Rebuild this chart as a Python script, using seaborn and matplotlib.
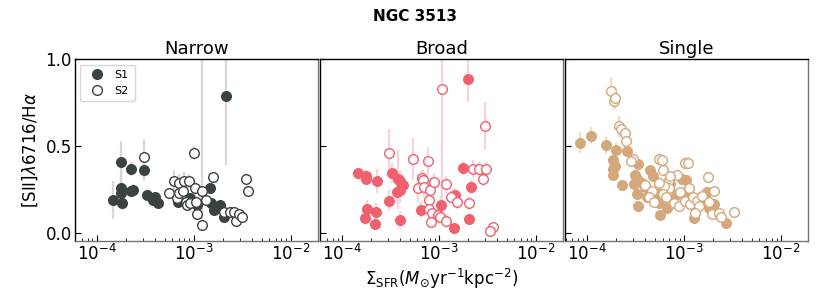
import numpy as np
import pandas as pd
import seaborn as sns
import matplotlib
matplotlib.use("Agg")
import matplotlib.pyplot as plt
import matplotlib.ticker as ticker
from matplotlib.lines import Line2D

sns.set_theme(style="ticks")
plt.rcParams.update(
    {
        "font.family": ["DejaVu Sans"],
        "axes.edgecolor": "black",
        "xtick.color": "black",
        "ytick.color": "black",
        "text.color": "black",
        "axes.labelcolor": "black",
        "xtick.direction": "in",
        "ytick.direction": "in",
        "xtick.labelsize": 12,
        "ytick.labelsize": 12,
    }
)

# --- data (x stored as log10 Sigma_SFR) ---
panels = ["Narrow", "Broad", "Single"]

narrow_s1_logx = [-3.83, -3.75, -3.75, -3.75, -3.74, -3.65, -3.65, -3.63, -3.51, -3.48, -3.41, -3.40,
                  -3.42, -3.37, -2.67, -2.83, -3.16, -2.97, -2.82, -2.79, -2.73, -2.69, -3.04]
narrow_s1_y = [0.19, 0.41, 0.26, 0.23, 0.17, 0.37, 0.24, 0.25, 0.36, 0.22, 0.20, 0.21,
               0.19, 0.17, 0.79, 0.26, 0.18, 0.16, 0.17, 0.13, 0.16, 0.09, 0.20]
narrow_s1_err = [0.11, 0.12, 0.08, 0.06, 0.04, 0.04, 0.03, 0.03, 0.06, 0.03, 0.03, 0.02,
                 0.03, 0.02, 0.40, 0.03, 0.03, 0.03, 0.02, 0.02, 0.02, 0.02, 0.03]

narrow_s2_logx = [-3.51, -3.00, -3.26, -3.21, -3.15, -3.10, -3.05, -3.17, -3.15, -3.08, -3.07, -3.04,
                  -2.99, -2.98, -2.97, -2.92, -2.92, -2.87, -2.80, -2.69, -2.63, -2.59, -2.57, -2.53,
                  -2.50, -2.46, -2.44, -3.11]
narrow_s2_y = [0.44, 0.46, 0.23, 0.30, 0.29, 0.30, 0.30, 0.20, 0.23, 0.18, 0.16, 0.17,
               0.26, 0.18, 0.11, 0.045, 0.24, 0.19, 0.32, 0.12, 0.12, 0.12, 0.07, 0.11,
               0.09, 0.31, 0.24, 0.24]
narrow_s2_err_lo = [0.10, 0.04, 0.03, 0.06, 0.05, 0.05, 0.04, 0.04, 0.03, 0.03, 0.03, 0.03,
                    0.04, 0.03, 0.04, 0.00, 0.03, 0.03, 0.03, 0.02, 0.02, 0.02, 0.02, 0.02,
                    0.02, 0.03, 0.03, 0.05]
narrow_s2_err_hi = [0.10, 0.04, 0.03, 0.06, 0.05, 0.05, 0.04, 0.04, 0.03, 0.03, 0.03, 0.03,
                    0.04, 0.03, 0.04, 1.00, 0.03, 0.03, 0.03, 0.02, 0.02, 0.02, 0.02, 0.02,
                    0.02, 0.03, 0.03, 0.05]

broad_s1_logx = [-3.84, -3.75, -3.75, -3.64, -3.48, -3.42, -3.40, -3.37, -3.40, -3.43, -3.52, -3.74,
                 -3.76, -3.65, -3.66, -3.40, -3.18, -2.98, -2.84, -2.83, -2.75, -2.67, -2.69, -2.70]
broad_s1_y = [0.345, 0.33, 0.31, 0.30, 0.345, 0.31, 0.30, 0.275, 0.245, 0.235, 0.185, 0.14,
              0.085, 0.12, 0.05, 0.075, 0.135, 0.16, 0.03, 0.22, 0.375, 0.265, 0.08, 0.885]
broad_s1_err = [0.03, 0.04, 0.03, 0.07, 0.06, 0.17, 0.06, 0.06, 0.07, 0.05, 0.06, 0.05,
                0.04, 0.05, 0.03, 0.05, 0.05, 0.06, 0.03, 0.04, 0.04, 0.04, 0.03, 0.13]

broad_s2_logx = [-3.52, -3.27, -3.11, -2.97, -2.53, -3.17, -3.16, -3.22, -3.15, -3.09, -3.05, -2.93,
                 -3.10, -3.10, -3.07, -3.01, -2.99, -3.08, -2.93, -2.88, -2.81, -2.69, -2.65, -2.59,
                 -2.51, -2.55, -2.44, -2.47]
broad_s2_y = [0.46, 0.425, 0.415, 0.83, 0.615, 0.315, 0.305, 0.26, 0.265, 0.245, 0.295, 0.28,
              0.19, 0.14, 0.115, 0.105, 0.09, 0.065, 0.07, 0.21, 0.18, 0.175, 0.37, 0.37,
              0.37, 0.31, 0.035, 0.01]
broad_s2_err = [0.14, 0.12, 0.08, 0.73, 0.14, 0.05, 0.06, 0.08, 0.06, 0.07, 0.05, 0.05,
                0.05, 0.04, 0.04, 0.03, 0.03, 0.03, 0.04, 0.04, 0.04, 0.04, 0.05, 0.04,
                0.04, 0.04, 0.02, 0.02]

single_s1_logx = [-4.07, -3.96, -3.81, -3.70, -3.73, -3.71, -3.73, -3.73, -3.64, -3.59, -3.47, -3.51,
                  -3.52, -3.49, -3.49, -3.47, -3.43, -3.38, -3.35, -3.32, -3.29, -3.26, -3.25, -3.22,
                  -3.18, -3.14, -3.11, -3.07, -3.02, -2.98, -2.97, -2.90, -2.85, -2.76, -2.74, -2.69,
                  -2.57, -2.64, -3.40]
single_s1_y = [0.52, 0.56, 0.505, 0.48, 0.42, 0.385, 0.37, 0.335, 0.275, 0.47, 0.395, 0.335,
               0.28, 0.31, 0.225, 0.155, 0.29, 0.205, 0.36, 0.33, 0.225, 0.175, 0.105, 0.255,
               0.145, 0.28, 0.195, 0.225, 0.31, 0.305, 0.205, 0.085, 0.175, 0.235, 0.145, 0.165,
               0.06, 0.105, 0.265]
single_s1_err = [0.06, 0.05, 0.05, 0.04, 0.04, 0.04, 0.03, 0.03, 0.03, 0.03, 0.03, 0.03,
                 0.02, 0.03, 0.02, 0.02, 0.03, 0.02, 0.03, 0.03, 0.02, 0.02, 0.02, 0.02,
                 0.02, 0.03, 0.02, 0.02, 0.03, 0.03, 0.02, 0.02, 0.02, 0.02, 0.02, 0.02,
                 0.02, 0.02, 0.02]

single_s2_logx = [-3.75, -3.72, -3.71, -3.67, -3.65, -3.61, -3.60, -3.53, -3.55, -3.26, -3.23, -2.99,
                  -2.96, -3.07, -2.75, -2.69, -2.48, -3.22, -3.16, -3.15, -3.21, -3.26, -3.40, -3.33,
                  -3.36, -3.31, -3.22, -3.19, -3.10, -3.05, -2.99, -2.95, -2.94, -2.91, -2.87, -2.85,
                  -2.81, -2.89, -2.74, -2.71, -2.64, -2.62, -3.14, -3.04]
single_s2_y = [0.815, 0.76, 0.775, 0.615, 0.60, 0.575, 0.53, 0.425, 0.415, 0.425, 0.42, 0.405,
               0.405, 0.335, 0.325, 0.24, 0.12, 0.36, 0.305, 0.26, 0.27, 0.29, 0.275, 0.24,
               0.205, 0.18, 0.225, 0.205, 0.175, 0.155, 0.185, 0.26, 0.165, 0.205, 0.185, 0.155,
               0.215, 0.115, 0.18, 0.11, 0.115, 0.095, 0.33, 0.235]
single_s2_err = [0.08, 0.05, 0.06, 0.06, 0.04, 0.04, 0.04, 0.03, 0.03, 0.03, 0.03, 0.03,
                 0.03, 0.03, 0.02, 0.02, 0.02, 0.03, 0.02, 0.02, 0.02, 0.02, 0.02, 0.02,
                 0.02, 0.02, 0.02, 0.02, 0.02, 0.02, 0.02, 0.02, 0.02, 0.02, 0.02, 0.02,
                 0.02, 0.02, 0.02, 0.02, 0.02, 0.02, 0.02, 0.02]

colors = {"Narrow": "#3b4242", "Broad": "#f0606e", "Single": "#d3a87b"}
err_colors = {"Narrow": "#dbd7d2", "Broad": "#f9d3dc", "Single": "#efdcc4"}

series = {
    "Narrow": [
        (narrow_s1_logx, narrow_s1_y, narrow_s1_err, narrow_s1_err, "S1"),
        (narrow_s2_logx, narrow_s2_y, narrow_s2_err_lo, narrow_s2_err_hi, "S2"),
    ],
    "Broad": [
        (broad_s1_logx, broad_s1_y, broad_s1_err, broad_s1_err, "S1"),
        (broad_s2_logx, broad_s2_y, broad_s2_err, broad_s2_err, "S2"),
    ],
    "Single": [
        (single_s1_logx, single_s1_y, single_s1_err, single_s1_err, "S1"),
        (single_s2_logx, single_s2_y, single_s2_err, single_s2_err, "S2"),
    ],
}

fig, axes = plt.subplots(1, 3, figsize=(8.3, 2.97), dpi=100, sharey=True)
fig.subplots_adjust(left=0.09, right=0.9735, top=0.801, bottom=0.189, wspace=0.008)

for ax, name in zip(axes, panels):
    c = colors[name]
    # error bars first, underneath the markers
    for logx, y, lo, hi, lab in series[name]:
        ax.errorbar(
            np.power(10.0, logx), y, yerr=[lo, hi], fmt="none",
            ecolor=err_colors[name], elinewidth=1.6, capsize=0, zorder=1,
        )
    for logx, y, lo, hi, lab in series[name]:
        df = pd.DataFrame({"sfr": np.power(10.0, logx), "ratio": y})
        face = c if lab == "S1" else "white"
        sns.scatterplot(
            data=df, x="sfr", y="ratio", ax=ax, s=48, marker="o",
            color=face, edgecolor=c, linewidth=1.0, zorder=3 if lab == "S1" else 4,
            legend=False,
        )

    ax.set_xscale("log")
    ax.set_xlim(5.9e-5, 1.9e-2)
    ax.set_ylim(-0.045, 1.0)
    ax.set_yticks([0.0, 0.5, 1.0])
    ax.xaxis.set_minor_locator(ticker.LogLocator(base=10, subs=np.arange(2, 10)))
    ax.tick_params(axis="both", which="major", length=4, width=0.8, pad=2, top=False, right=False)
    ax.tick_params(axis="x", which="minor", length=2, width=0.6)
    ax.set_title(name, fontsize=13, pad=4)
    ax.set_xlabel("")
    ax.set_ylabel("")
    for side in ["top", "left"]:
        ax.spines[side].set_color("black")
    for side in ["right", "bottom"]:
        ax.spines[side].set_color("0.45")
    for side in ax.spines:
        ax.spines[side].set_linewidth(1.0)

axes[0].set_ylabel(r"[SII]$\lambda$6716/H$\alpha$", fontsize=12, labelpad=4)
axes[1].set_xlabel(r"$\Sigma_{\rm SFR}(M_{\odot}{\rm yr}^{-1}{\rm kpc}^{-2})$", fontsize=12, labelpad=2)

handles = [
    Line2D([], [], marker="o", linestyle="none", markersize=7,
           markerfacecolor=colors["Narrow"], markeredgecolor=colors["Narrow"], label="S1"),
    Line2D([], [], marker="o", linestyle="none", markersize=7,
           markerfacecolor="white", markeredgecolor=colors["Narrow"], label="S2"),
]
axes[0].legend(handles=handles, loc="upper left", fontsize=8, frameon=True,
               borderpad=0.5, handletextpad=0.6, labelspacing=0.5)

fig.text(0.5, 0.943, "NGC 3513", ha="center", va="center", fontsize=11, fontweight="bold")

plt.savefig("out.png", dpi=100)
plt.close()
